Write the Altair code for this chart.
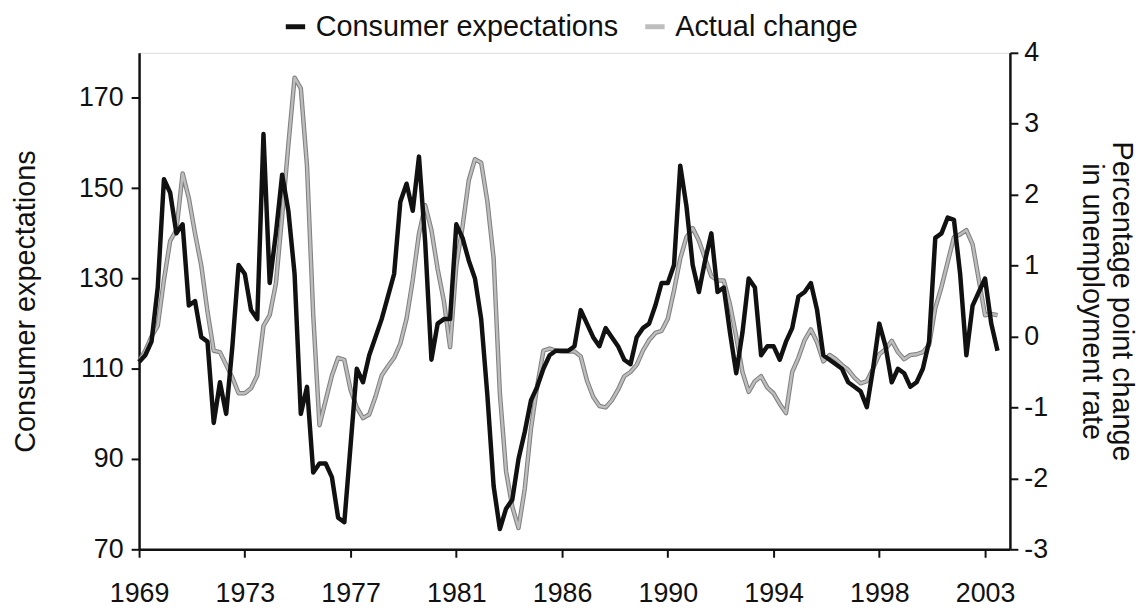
import altair as alt
import pandas as pd

# Quarter index: 0 = 1969Q1
quarters = list(range(139))

consumer_expectations = [
    111.5, 113, 116, 128, 152, 149, 140, 142, 124, 125,
    117, 116, 98, 107, 100, 115, 133, 131, 123, 121,
    162, 129, 140, 153, 145, 131, 100, 106, 87, 89,
    89, 86, 77, 76, 93, 110, 107, 113, 117, 121,
    126, 131, 147, 151, 145, 157, 138, 112, 120, 121,
    121, 142, 139, 134, 130, 121, 104, 84, 74.5, 79,
    81, 90, 96, 103, 106, 110, 113, 114, 114, 114,
    115, 123, 120, 117, 115, 119, 117, 115, 112, 111,
    117, 119, 120, 124, 129, 129, 133, 155, 146, 133,
    127, 134, 140, 127, 128, 118, 109, 118, 130, 128,
    113, 115, 115, 112, 116, 119, 126, 127, 129, 123,
    113, 112, 111, 110, 107, 106, 105, 101.5, 110, 120,
    115, 107, 110, 109, 106, 107, 110, 116, 139, 140,
    143.5, 143, 131, 113, 124, 127, 130, 120, 114,
]

actual_change = [
    -0.35, -0.2, 0.0, 0.15, 0.8, 1.35, 1.5, 2.3, 1.95, 1.45,
    1.0, 0.35, -0.2, -0.22, -0.4, -0.58, -0.8, -0.8, -0.73, -0.55,
    0.15, 0.3, 0.75, 1.7, 2.7, 3.65, 3.5, 2.4, 0.3, -1.25,
    -0.9, -0.55, -0.3, -0.33, -0.75, -1.0, -1.15, -1.1, -0.85, -0.55,
    -0.42, -0.3, -0.1, 0.25, 0.8, 1.45, 1.85, 1.5, 0.95, 0.5,
    -0.15, 1.0, 1.55, 2.2, 2.5, 2.45, 1.9, 1.1, -0.8, -1.9,
    -2.4, -2.7, -2.15, -1.3, -0.7, -0.2, -0.17, -0.2, -0.21, -0.21,
    -0.21, -0.28, -0.62, -0.85, -0.98, -1.0, -0.9, -0.75, -0.56, -0.5,
    -0.4, -0.2, -0.05, 0.05, 0.08, 0.25, 0.65, 1.1, 1.4, 1.53,
    1.35, 1.1, 0.85, 0.79, 0.79, 0.45, 0.0, -0.5, -0.78, -0.63,
    -0.56, -0.72, -0.8, -0.95, -1.08, -0.5, -0.3, -0.05, 0.1, -0.08,
    -0.35, -0.26, -0.32, -0.4, -0.47, -0.58, -0.66, -0.63, -0.45, -0.25,
    -0.18, -0.06, -0.22, -0.32, -0.26, -0.25, -0.22, -0.12, 0.4, 0.7,
    1.05, 1.4, 1.44, 1.5, 1.3, 0.8, 0.3, 0.32, 0.3,
]

x_tick_values = [0, 17, 34, 51, 68, 85, 102, 119, 136]
left_ticks = [70, 90, 110, 130, 150, 170]
right_ticks = [-3, -2, -1, 0, 1, 2, 3, 4]
series_names = ["Consumer expectations", "Actual change"]

df_ce = pd.DataFrame({"q": quarters, "value": consumer_expectations, "series": series_names[0]})
df_ac = pd.DataFrame({"q": quarters, "value": actual_change, "series": series_names[1]})

FONT = "Liberation Sans"

x_enc = alt.X(
    "q:Q",
    scale=alt.Scale(domain=[0, 140], nice=False, zero=False),
    axis=alt.Axis(
        values=x_tick_values,
        labelExpr="floor(1969 + datum.value / 4)",
        title=None,
        grid=False,
        tickSize=8,
        tickWidth=2,
        domainWidth=2.5,
        domainColor="#111",
        tickColor="#111",
        labelPadding=24,
        labelFontSize=27,
        labelColor="#111",
        labelFont=FONT,
        labelFlush=False,
        labelOverlap=False,
    ),
)

color_enc = alt.Color(
    "series:N",
    scale=alt.Scale(domain=series_names, range=["#111111", "#bdbdbd"]),
    legend=alt.Legend(
        orient="none",
        direction="horizontal",
        legendX=143,
        legendY=-41,
        title=None,
        symbolType="stroke",
        symbolStrokeWidth=5,
        symbolSize=380,
        labelFontSize=29,
        labelFont=FONT,
        labelColor="#111",
        labelLimit=0,
        columnPadding=16,
        labelOffset=6,
    ),
)

right_axis = alt.Axis(
    orient="right",
    values=right_ticks,
    labelExpr="'' + datum.value",
    title=["Percentage point change", "in unemployment rate"],
    titleFontSize=29,
    titleFont=FONT,
    titleFontWeight="normal",
    titleColor="#111",
    titlePadding=29,
    titleLineHeight=30,
    grid=False,
    tickSize=8,
    tickWidth=2,
    domainWidth=2.5,
    domainColor="#111",
    tickColor="#111",
    labelPadding=6,
    labelFontSize=27,
    labelColor="#111",
    labelFont=FONT,
)

left_axis = alt.Axis(
    orient="left",
    values=left_ticks,
    title="Consumer expectations",
    titleFontSize=29,
    titleFont=FONT,
    titleFontWeight="normal",
    titleColor="#111",
    titlePadding=38,
    grid=False,
    tickSize=8,
    tickWidth=2,
    domainWidth=2.5,
    domainColor="#111",
    tickColor="#111",
    labelPadding=8,
    labelFontSize=27,
    labelColor="#111",
    labelFont=FONT,
)

y_right = alt.Y("value:Q", scale=alt.Scale(domain=[-3, 4], nice=False, zero=False), axis=right_axis)
y_left = alt.Y("value:Q", scale=alt.Scale(domain=[70, 180], nice=False, zero=False), axis=left_axis)

ac_outline = alt.Chart(df_ac).mark_line(color="#808080", strokeWidth=4.5, strokeJoin="round").encode(
    x=x_enc, y=y_right
)
ac_core = alt.Chart(df_ac).mark_line(strokeWidth=2.4, strokeJoin="round").encode(
    x=x_enc, y=y_right, color=color_enc
)
ce_line = alt.Chart(df_ce).mark_line(strokeWidth=4.5, strokeJoin="round").encode(
    x=x_enc, y=y_left, color=color_enc
)

chart = (
    alt.layer(alt.layer(ac_outline, ac_core), ce_line)
    .resolve_scale(y="independent")
    .properties(
        width=877,
        height=500,
        autosize=alt.AutoSizeParams(type="none"),
        padding={"left": 132, "top": 43, "right": 131, "bottom": 58},
    )
    .configure_view(stroke=None)
    .configure(background="white")
)

chart.save("out.html", embed_options={"renderer": "svg", "actions": False})
